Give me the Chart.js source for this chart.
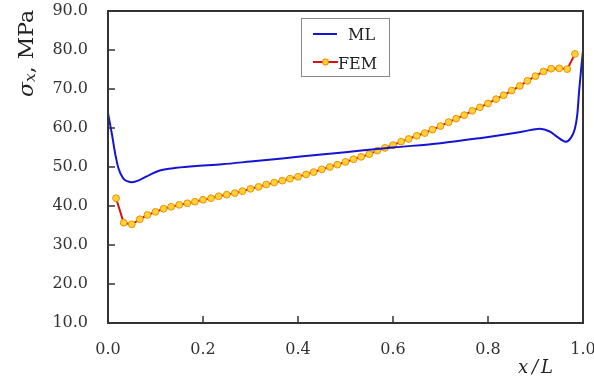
<!DOCTYPE html>
<html>
<head>
<meta charset="utf-8">
<script src="https://cdn.jsdelivr.net/npm/chart.js@4.4.1/dist/chart.umd.min.js"></script>
<style>
  html, body { margin: 0; padding: 0; background: #fff; }
  #wrap { width: 594px; height: 379px; }
</style>
</head>
<body>
<div id="wrap"><canvas id="stressChart" width="594" height="379"></canvas></div>
<script>
// ML curve (x/L, sigma_x in MPa)
const mlX = [0.000, 0.008, 0.015, 0.022, 0.032, 0.042, 0.050, 0.067, 0.088, 0.109,
             0.137, 0.180, 0.240, 0.300, 0.400, 0.500, 0.600, 0.700, 0.783, 0.839,
             0.874, 0.909, 0.930, 0.945, 0.957, 0.964, 0.974, 0.983, 0.988, 0.992,
             0.996, 1.000];
const mlY = [63.8, 58.6, 53.5, 49.7, 47.1, 46.3, 46.1, 46.7, 48.0, 49.1,
             49.7, 50.2, 50.7, 51.4, 52.6, 53.8, 55.0, 56.1, 57.4, 58.4,
             59.1, 59.8, 59.1, 57.8, 56.8, 56.5, 57.4, 59.9, 63.5, 69.7,
             75.0, 79.8];

// FEM points
const femX = [0.017, 0.033, 0.050, 0.067, 0.083, 0.100, 0.117, 0.133, 0.150, 0.167,
              0.183, 0.200, 0.217, 0.233, 0.250, 0.267, 0.283, 0.300, 0.317, 0.333,
              0.350, 0.367, 0.383, 0.400, 0.417, 0.433, 0.450, 0.467, 0.483, 0.500,
              0.517, 0.533, 0.550, 0.567, 0.583, 0.600, 0.617, 0.633, 0.650, 0.667,
              0.683, 0.700, 0.717, 0.733, 0.750, 0.767, 0.783, 0.800, 0.817, 0.833,
              0.850, 0.867, 0.883, 0.900, 0.917, 0.933, 0.950, 0.967, 0.983];
const femY = [42.0, 35.7, 35.3, 36.6, 37.7, 38.5, 39.3, 39.8, 40.3, 40.7,
              41.1, 41.6, 42.0, 42.5, 42.9, 43.3, 43.8, 44.4, 44.9, 45.5,
              46.0, 46.5, 47.0, 47.5, 48.1, 48.7, 49.4, 50.0, 50.6, 51.3,
              52.0, 52.6, 53.3, 54.2, 54.9, 55.6, 56.5, 57.2, 58.0, 58.7,
              59.6, 60.5, 61.5, 62.4, 63.3, 64.4, 65.3, 66.3, 67.4, 68.4,
              69.6, 70.8, 72.1, 73.3, 74.5, 75.2, 75.3, 75.1, 79.0];

const xTicks = [0, 0.2, 0.4, 0.6, 0.8, 1.0];
const yTicks = [10, 20, 30, 40, 50, 60, 70, 80, 90];

const serif = "'DejaVu Serif', 'Liberation Serif', serif";
const axisColor = '#333';

// box, inward ticks, axis titles and legend (lines drawn as thin filled rects)
const framePlugin = {
    id: 'plotFrame',
    afterDraw(chart) {
        const ctx = chart.ctx;
        const xs = chart.scales.x;
        const ys = chart.scales.y;
        const L = Math.round(xs.getPixelForValue(0)), R = Math.round(xs.getPixelForValue(1));
        const T = Math.round(ys.getPixelForValue(90)), B = Math.round(ys.getPixelForValue(10));

        ctx.save();
        ctx.fillStyle = axisColor;
        ctx.fillRect(L - 1, T - 1, 2, B - T + 2);
        ctx.fillRect(R - 1, T - 1, 2, B - T + 2);
        ctx.fillRect(L - 1, T - 1, R - L + 2, 2);
        ctx.fillRect(L - 1, B - 1, R - L + 2, 2);
        xTicks.forEach(v => {
            const px = Math.round(xs.getPixelForValue(v));
            ctx.fillRect(px - 0.75, B - 7, 1.5, 7);
        });
        yTicks.forEach(v => {
            const py = Math.round(ys.getPixelForValue(v));
            ctx.fillRect(L, py - 0.75, 7, 1.5);
        });

        // y title: sigma_x, MPa
        ctx.fillStyle = '#222';
        ctx.textBaseline = 'alphabetic';
        const fBig = 'italic 21px ' + serif;
        const fSub = 'italic 15px ' + serif;
        const fReg = '21px ' + serif;
        ctx.font = fBig; const w1 = ctx.measureText('σ').width;
        ctx.font = fSub; const w2 = ctx.measureText('x').width;
        ctx.font = fReg; const w3 = ctx.measureText(', MPa').width;
        const k = 87 / (w1 + w2 + w3);
        ctx.save();
        ctx.translate(33, 97);
        ctx.rotate(-Math.PI / 2);
        ctx.scale(k, 1);
        ctx.font = fBig; ctx.fillText('σ', 0, 0);
        ctx.font = fSub; ctx.fillText('x', w1, 2);
        ctx.font = fReg; ctx.fillText(', MPa', w1 + w2, 0);
        ctx.restore();

        // x title: x/L
        ctx.font = 'italic 18px ' + serif;
        ctx.fillText('x', R - 65, 373);
        ctx.fillText('/', R - 51, 373);
        ctx.fillText('L', R - 42, 373);

        // legend
        const lx = L + 193, ly = T + 7, lw = 89, lh = 59;
        ctx.fillStyle = '#fff';
        ctx.fillRect(lx, ly, lw, lh);
        ctx.fillStyle = '#888';
        ctx.fillRect(lx, ly, lw, 1);
        ctx.fillRect(lx, ly + lh - 1, lw, 1);
        ctx.fillRect(lx, ly, 1, lh);
        ctx.fillRect(lx + lw - 1, ly, 1, lh);

        const ds = chart.data.datasets;
        ctx.fillStyle = ds[0].borderColor;
        ctx.fillRect(lx + 12, ly + 15, 24, 2);
        ctx.fillStyle = ds[1].borderColor;
        ctx.fillRect(lx + 12, ly + 43, 25, 2);
        ctx.beginPath();
        ctx.arc(lx + 24.5, ly + 44, 3.4, 0, Math.PI * 2);
        ctx.fillStyle = ds[1].pointBorderColor;
        ctx.fill();
        ctx.beginPath();
        ctx.arc(lx + 24.5, ly + 44, 2.4, 0, Math.PI * 2);
        ctx.fillStyle = ds[1].pointBackgroundColor;
        ctx.fill();

        ctx.fillStyle = '#222';
        ctx.font = '16px ' + serif;
        ctx.fillText(ds[0].label, lx + 47, ly + 22);
        ctx.fillText(ds[1].label, lx + 37, ly + 51);
        ctx.restore();
    }
};

new Chart(document.getElementById('stressChart'), {
    type: 'line',
    data: {
        datasets: [{
            label: 'ML',
            data: mlX.map((x, i) => ({ x: x, y: mlY[i] })),
            borderColor: '#1414d2',
            borderWidth: 2,
            pointRadius: 0,
            cubicInterpolationMode: 'monotone',
            fill: false
        }, {
            label: 'FEM',
            data: femX.map((x, i) => ({ x: x, y: femY[i] })),
            borderColor: '#dc1010',
            borderWidth: 2,
            pointRadius: 3.4,
            pointBackgroundColor: '#ffd23a',
            pointBorderColor: '#f09000',
            pointBorderWidth: 1,
            tension: 0,
            fill: false
        }]
    },
    options: {
        responsive: false,
        animation: false,
        layout: { padding: { top: 11, right: 11, left: 0, bottom: 0 } },
        plugins: {
            legend: { display: false },
            tooltip: { enabled: false }
        },
        scales: {
            x: {
                type: 'linear',
                min: 0,
                max: 1,
                grid: { display: false, drawTicks: false },
                border: { display: false },
                afterBuildTicks: s => { s.ticks = xTicks.map(v => ({ value: v })); },
                afterFit: s => { s.height = 56; s.paddingLeft = 0; s.paddingRight = 0; },
                ticks: {
                    padding: 17,
                    color: axisColor,
                    font: { family: serif, size: 16 },
                    maxRotation: 0,
                    callback: v => Number(v).toFixed(1)
                }
            },
            y: {
                min: 10,
                max: 90,
                grid: { display: false, drawTicks: false },
                border: { display: false },
                afterBuildTicks: s => { s.ticks = yTicks.map(v => ({ value: v })); },
                afterFit: s => { s.width = 108; s.paddingTop = 0; s.paddingBottom = 0; },
                ticks: {
                    padding: 20,
                    color: axisColor,
                    font: { family: serif, size: 16 },
                    callback: v => Number(v).toFixed(1)
                }
            }
        }
    },
    plugins: [framePlugin]
});
</script>
</body>
</html>
